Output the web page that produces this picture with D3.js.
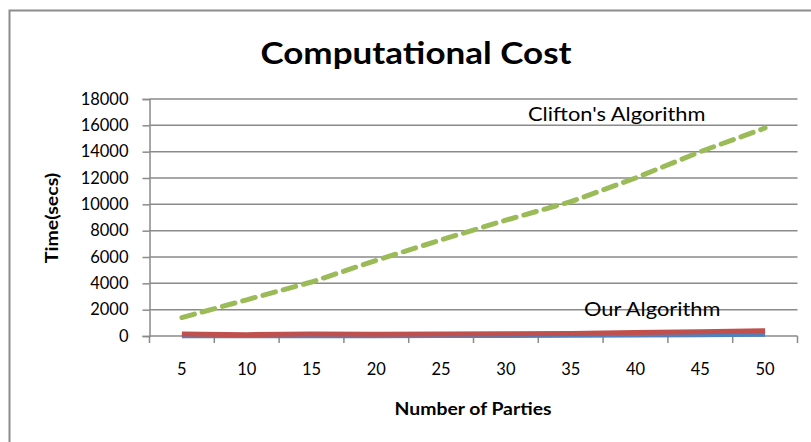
<!DOCTYPE html>
<html>
<head>
<meta charset="utf-8">
<script src="https://cdn.jsdelivr.net/npm/d3@7"></script>
<style>
  html, body { margin: 0; padding: 0; background: #fff; }
  svg { display: block; }
  text { font-family: Lato, "Open Sans", sans-serif; fill: #000; }
</style>
</head>
<body>
<svg id="chart" width="811" height="442"></svg>
<script>
// ---- data ----
const parties = ["5", "10", "15", "20", "25", "30", "35", "40", "45", "50"];
const cliftonValues = [1400, 2750, 4100, 5750, 7300, 8800, 10200, 12000, 14000, 15800];
const oursRedValues = [150, 100, 150, 130, 160, 170, 190, 260, 320, 400];
const oursBlueValues = [10, 15, 20, 25, 30, 40, 50, 70, 100, 130];
const yTicks = [0, 2000, 4000, 6000, 8000, 10000, 12000, 14000, 16000, 18000];
const titleText = "Computational Cost";
const xTitle = "Number of Parties";
const yTitle = "Time(secs)";
const labelClifton = "Clifton's Algorithm";
const labelOurs = "Our Algorithm";

const svg = d3.select("#chart");
const W = 811, H = 442;
const plot = { left: 149.5, right: 797.5, top: 99, bottom: 336 };

// outer border
svg.append("rect").attr("x", 9.5).attr("y", 10.5).attr("width", W + 20).attr("height", H + 20)
  .attr("fill", "none").attr("stroke", "#8c8c8c").attr("stroke-width", 2);

const x = d3.scaleBand().domain(parties).range([plot.left, plot.right]).padding(0);
const y = d3.scaleLinear().domain([0, 18000]).range([plot.bottom, plot.top]);
const cx = d => x(d) + x.bandwidth() / 2;

// stretched text helper (reference font is wide)
function label(px, py, txt, size, weight, sx, anchor, rot) {
  const t = svg.append("text")
    .attr("transform", `translate(${px},${py})` + (rot ? ` rotate(${rot})` : "") + ` scale(${sx},1)`)
    .attr("text-anchor", anchor || "start")
    .attr("font-size", size).text(txt);
  if (weight) t.attr("font-weight", weight);
  return t;
}

// gridlines
svg.append("g").selectAll("line").data(yTicks.filter(t => t > 0)).join("line")
  .attr("x1", plot.left).attr("x2", plot.right)
  .attr("y1", d => y(d)).attr("y2", d => y(d))
  .attr("stroke", "#8a8a8a").attr("stroke-width", 1.5);

// y axis
const yAxis = d3.axisLeft(y).tickValues(yTicks).tickSize(7).tickPadding(14).tickFormat(d3.format("d"));
const gy = svg.append("g").attr("transform", `translate(${plot.left},0)`).call(yAxis);
gy.select(".domain").attr("stroke", "#8a8a8a").attr("stroke-width", 1.5);
gy.selectAll(".tick line").attr("stroke", "#8a8a8a").attr("stroke-width", 1.5);
gy.selectAll(".tick text").attr("font-family", "Lato, sans-serif").attr("font-size", 16.5).attr("fill", "#000");

// x axis: ticks at band boundaries
const gx = svg.append("g").attr("transform", `translate(0,${plot.bottom})`);
gx.append("line").attr("x1", plot.left).attr("x2", plot.right).attr("y1", 0).attr("y2", 0)
  .attr("stroke", "#8a8a8a").attr("stroke-width", 1.5);
const boundaries = parties.map(p => x(p)).concat([plot.right]);
gx.selectAll("line.tk").data(boundaries).join("line").attr("class", "tk")
  .attr("x1", d => d).attr("x2", d => d).attr("y1", 0).attr("y2", 7)
  .attr("stroke", "#8a8a8a").attr("stroke-width", 1.5);
gx.selectAll("text").data(parties).join("text")
  .attr("x", d => cx(d)).attr("y", 39)
  .attr("text-anchor", "middle").attr("font-size", 16.5).text(d => d);

// lines
const line = vals => d3.line().x((d, i) => cx(parties[i])).y(d => y(d))(vals);
svg.append("path").attr("d", line(oursBlueValues)).attr("fill", "none")
  .attr("stroke", "#4F81BD").attr("stroke-width", 5).attr("stroke-linejoin", "round");
svg.append("path").attr("d", line(oursRedValues)).attr("fill", "none")
  .attr("stroke", "#C0504D").attr("stroke-width", 5).attr("stroke-linejoin", "round");
svg.append("path").attr("d", line(cliftonValues)).attr("fill", "none")
  .attr("stroke", "#9BBB59").attr("stroke-width", 5).attr("stroke-dasharray", "13,8")
  .attr("stroke-linecap", "round");

// titles
label(416, 64, titleText, 31, "bold", 1.13, "middle");
label(473, 415, xTitle, 17, "bold", 1.14, "middle");
label(58, 218, yTitle, 17, "bold", 1.15, "middle", -90);

// annotations
label(528, 121, labelClifton, 19, null, 1.15, "start");
label(584, 316, labelOurs, 19, null, 1.15, "start");
</script>
</body>
</html>
